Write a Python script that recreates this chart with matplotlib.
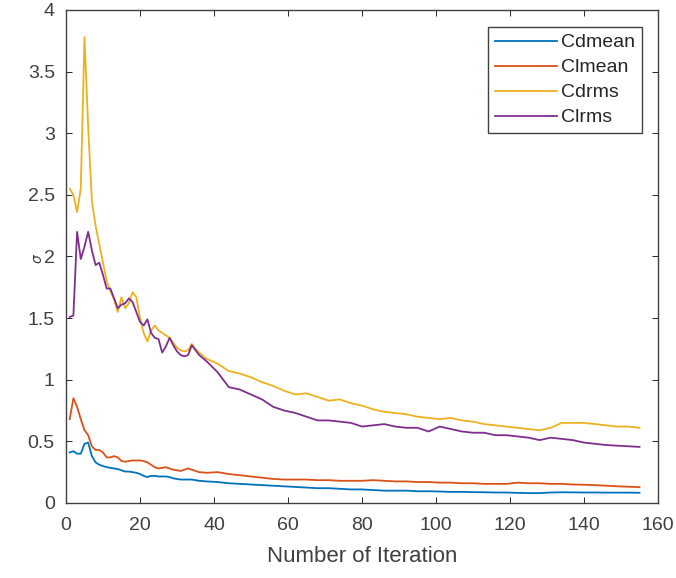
import matplotlib
matplotlib.use("Agg")
from matplotlib import pyplot as plt

# iteration numbers: every step early on, every third step later
iterations = list(range(1, 37)) + list(range(38, 156, 3))

cdmean = [0.41, 0.42, 0.40, 0.40, 0.48, 0.49, 0.38, 0.33, 0.31, 0.30,
          0.29, 0.285, 0.28, 0.275, 0.265, 0.255, 0.255, 0.25, 0.245, 0.235,
          0.22, 0.21, 0.22, 0.22, 0.215, 0.215, 0.215, 0.21, 0.20, 0.195,
          0.19, 0.19, 0.19, 0.19, 0.185, 0.18,
          0.175, 0.17, 0.16, 0.155, 0.15, 0.145, 0.14, 0.135, 0.13, 0.125,
          0.12, 0.12, 0.115, 0.11, 0.11, 0.105, 0.10, 0.10, 0.10, 0.095,
          0.095, 0.093, 0.09, 0.09, 0.088, 0.087, 0.085, 0.085, 0.082, 0.08,
          0.08, 0.085, 0.087, 0.086, 0.085, 0.085, 0.084, 0.084, 0.084, 0.083]

clmean = [0.68, 0.85, 0.78, 0.68, 0.59, 0.55, 0.46, 0.43, 0.43, 0.41,
          0.37, 0.37, 0.38, 0.37, 0.34, 0.335, 0.34, 0.345, 0.345, 0.345,
          0.34, 0.33, 0.31, 0.29, 0.28, 0.285, 0.29, 0.28, 0.27, 0.265,
          0.26, 0.27, 0.28, 0.27, 0.26, 0.25,
          0.245, 0.25, 0.235, 0.225, 0.215, 0.205, 0.195, 0.19, 0.19, 0.19,
          0.185, 0.185, 0.18, 0.18, 0.18, 0.185, 0.18, 0.175, 0.175, 0.17,
          0.17, 0.165, 0.165, 0.16, 0.16, 0.155, 0.155, 0.155, 0.165, 0.16,
          0.16, 0.155, 0.155, 0.15, 0.148, 0.145, 0.14, 0.135, 0.132, 0.128]

cdrms = [2.55, 2.50, 2.36, 2.55, 3.78, 3.05, 2.45, 2.25, 2.10, 1.95,
         1.80, 1.72, 1.65, 1.55, 1.67, 1.58, 1.62, 1.71, 1.67, 1.50,
         1.38, 1.31, 1.40, 1.44, 1.40, 1.38, 1.36, 1.34, 1.30, 1.26,
         1.24, 1.23, 1.24, 1.29, 1.25, 1.22,
         1.17, 1.13, 1.07, 1.05, 1.02, 0.98, 0.95, 0.91, 0.88, 0.89,
         0.86, 0.83, 0.84, 0.81, 0.79, 0.76, 0.74, 0.73, 0.72, 0.70,
         0.69, 0.68, 0.69, 0.67, 0.66, 0.64, 0.63, 0.62, 0.61, 0.60,
         0.59, 0.61, 0.65, 0.65, 0.65, 0.64, 0.63, 0.62, 0.62, 0.61]

clrms = [1.51, 1.52, 2.20, 1.98, 2.08, 2.20, 2.05, 1.93, 1.95, 1.85,
         1.74, 1.74, 1.66, 1.58, 1.61, 1.62, 1.66, 1.63, 1.55, 1.47,
         1.44, 1.49, 1.38, 1.34, 1.33, 1.22, 1.27, 1.34, 1.28, 1.23,
         1.20, 1.19, 1.20, 1.28, 1.24, 1.20,
         1.15, 1.06, 0.94, 0.92, 0.88, 0.84, 0.78, 0.75, 0.73, 0.70,
         0.67, 0.67, 0.66, 0.65, 0.62, 0.63, 0.64, 0.62, 0.61, 0.61,
         0.58, 0.62, 0.60, 0.58, 0.57, 0.57, 0.55, 0.55, 0.54, 0.53,
         0.51, 0.53, 0.52, 0.51, 0.49, 0.48, 0.47, 0.465, 0.46, 0.455]

series = [("Cdmean", cdmean, "#0072BD"),
          ("Clmean", clmean, "#D95319"),
          ("Cdrms", cdrms, "#EDB120"),
          ("Clrms", clrms, "#7E2F8E")]

plt.rcParams['font.family'] = ['Liberation Sans', 'DejaVu Sans']
txt = '#404040'

fig = plt.figure(figsize=(6.76, 5.78), dpi=100)
ax = fig.add_axes([0.0976, 0.1298, 0.8758, 0.8529])

for name, vals, col in series:
    ax.plot(iterations, vals, color=col, lw=1.3, label=name)

ax.set_xlim(0, 160)
ax.set_ylim(0, 4)
ax.set_xticks(range(0, 161, 20))
ax.set_yticks([0, 0.5, 1, 1.5, 2, 2.5, 3, 3.5, 4])
ax.set_yticklabels(["0", "0.5", "1", "1.5", "2", "2.5", "3", "3.5", "4"])
ax.tick_params(direction='in', top=True, right=True, length=4,
               width=0.7, color='#262626', labelcolor=txt, labelsize=14)
ax.tick_params(axis='x', pad=10)
ax.tick_params(axis='y', pad=8)
for sp in ax.spines.values():
    sp.set_color('#404040')
    sp.set_linewidth(1.0)

ax.set_xlabel("Number of Iteration", fontsize=16, color=txt, labelpad=9)
ax.set_ylabel(r"$\sigma$", fontsize=10, color=txt, rotation=90)
ax.yaxis.set_label_coords(-0.036, 0.497)

leg = ax.legend(loc='upper right', bbox_to_anchor=(0.973, 0.9655), fontsize=14,
                fancybox=False, edgecolor='#404040', framealpha=1,
                handlelength=3.2, handletextpad=0.2, labelspacing=0.38,
                borderpad=0.35, borderaxespad=0)
leg.get_frame().set_linewidth(1.0)
for t in leg.get_texts():
    t.set_color('#262626')

fig.savefig("out.png", dpi=100)
